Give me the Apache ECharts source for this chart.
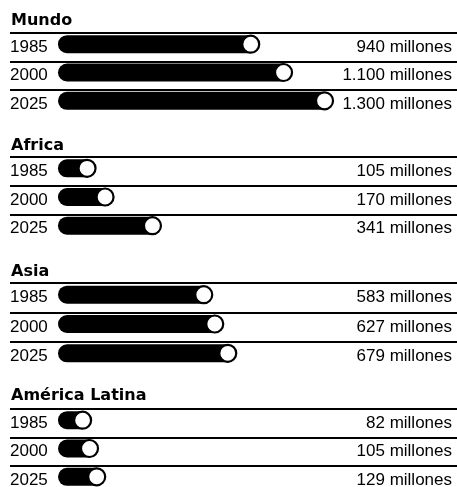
<!DOCTYPE html>
<html>
<head>
<meta charset="utf-8">
<script src="https://cdn.jsdelivr.net/npm/echarts@6/dist/echarts.min.js"></script>
<style>
html,body{margin:0;padding:0;background:#fff;overflow:hidden;}
#chart{width:457px;height:500px;}
</style>
</head>
<body>
<div id="chart"></div>
<script>
// ---- data ----
const regions = ['Mundo', 'Africa', 'Asia', 'América Latina'];
const years = ['1985', '2000', '2025'];
const mundo = [940, 1100, 1300];
const africa = [105, 170, 341];
const asia = [583, 627, 679];
const americaLatina = [82, 105, 129];
const unit = 'millones';

// ---- layout ----
const seriesValues = [mundo, africa, asia, americaLatina];
const gridTops = [33, 157, 283, 409];
const gridHeights = [85, 86, 88, 85];
const titleTops = [13, 138, 264, 388];
const axisMin = [-234, -173, -192, -160];
const axisMax = [1946, 1440, 1596, 1330];

function fmt(v) {
  return String(v).replace(/\B(?=(\d{3})+(?!\d))/g, '.') + ' ' + unit;
}

const textFont = 'Liberation Sans';
const titles = [], grids = [], xAxes = [], yAxes = [], series = [];

regions.forEach(function (name, i) {
  titles.push({
    text: name, left: 11, top: titleTops[i], padding: 0,
    textStyle: { fontFamily: 'DejaVu Sans', fontWeight: 'bold', fontSize: 16, color: '#000' }
  });
  grids.push({ left: 10, right: 0, top: gridTops[i], height: gridHeights[i] });
  xAxes.push({ type: 'value', gridIndex: i, min: axisMin[i], max: axisMax[i], show: false });
  yAxes.push({
    type: 'category', gridIndex: i, data: years, inverse: true,
    axisLine: { show: false }, axisTick: { show: false },
    axisLabel: { inside: true, margin: 0, color: '#000', fontFamily: textFont, fontSize: 17 },
    splitLine: { show: true, showMinLine: true, showMaxLine: false, lineStyle: { color: '#000', width: 2 } }
  });
  yAxes.push({
    type: 'category', gridIndex: i, position: 'right', inverse: true,
    data: seriesValues[i].map(fmt),
    axisLine: { show: false }, axisTick: { show: false }, splitLine: { show: false },
    axisLabel: { inside: true, margin: 5, color: '#000', fontFamily: textFont, fontSize: 17 }
  });
  series.push({
    type: 'bar', xAxisIndex: i, yAxisIndex: i * 2, data: seriesValues[i],
    barWidth: 18, barGap: '0%', z: 2,
    itemStyle: { color: '#000', borderRadius: [9, 0, 0, 9] }, silent: true
  });
  series.push({
    type: 'bar', xAxisIndex: i, yAxisIndex: i * 2, data: seriesValues[i],
    barWidth: 6, barGap: '0%', z: 1,
    itemStyle: { color: 'rgba(0,0,0,0)' }, silent: true
  });
  series.push({
    type: 'scatter', xAxisIndex: i, yAxisIndex: i * 2,
    data: seriesValues[i].map(function (v, k) { return [v, k]; }),
    symbol: 'circle', symbolSize: 17, symbolOffset: [0, -3], z: 5,
    itemStyle: { color: '#fff', borderColor: '#000', borderWidth: 2.2, opacity: 1 }, silent: true
  });
});

const chart = echarts.init(document.getElementById('chart'), null, { renderer: 'canvas' });
chart.setOption({
  backgroundColor: '#fff',
  animation: false,
  title: titles,
  grid: grids,
  xAxis: xAxes,
  yAxis: yAxes,
  series: series
});
</script>
</body>
</html>
